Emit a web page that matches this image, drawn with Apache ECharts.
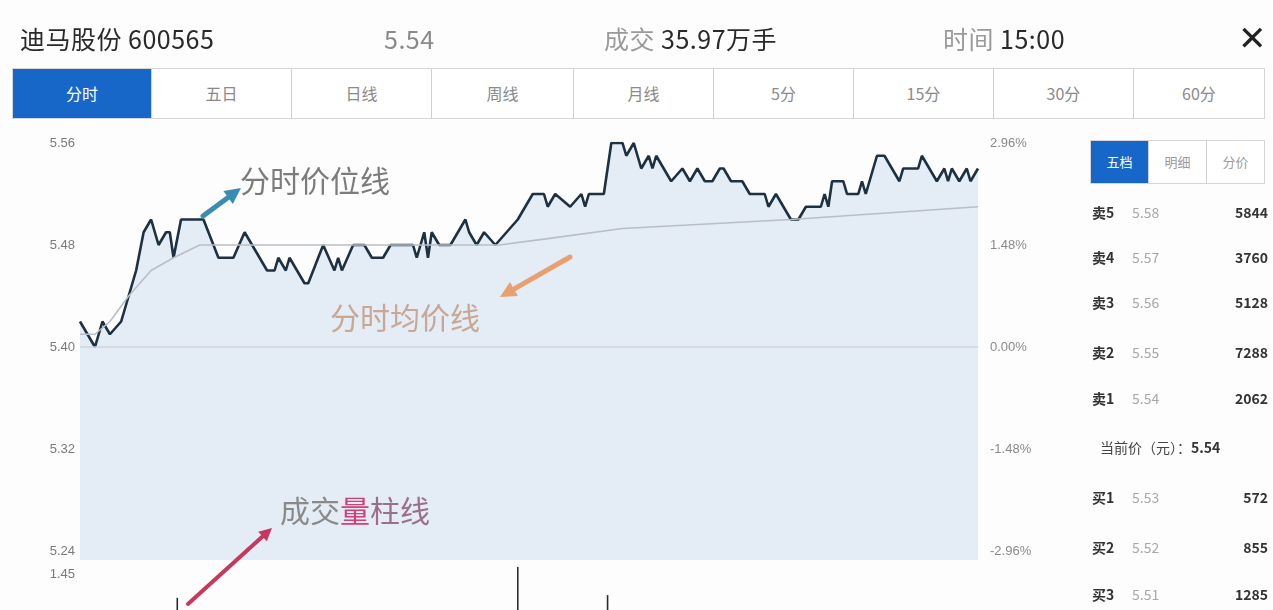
<!DOCTYPE html>
<html><head><meta charset="utf-8">
<script src="https://cdn.jsdelivr.net/npm/echarts@6/dist/echarts.min.js"></script>
<style>
html,body{margin:0;padding:0;width:1273px;height:610px;overflow:hidden;background:#fdfdfd;font-family:"Noto Sans CJK SC","Noto Sans",sans-serif;}
#chart{position:absolute;left:0;top:0;width:1273px;height:610px;}
.abs{position:absolute;white-space:nowrap;}
.hdr{top:20px;font-size:25px;letter-spacing:0.5px;color:#2a2a2a;line-height:36px;}
.hdr .lt{color:#9a9a9a;}
#tabs{position:absolute;left:12px;top:68px;width:1253px;height:51px;border:1px solid #d6d6d6;box-sizing:border-box;display:flex;background:#fff;}
#tabs div{flex:0 0 auto;text-align:center;line-height:49px;font-size:16px;color:#8a8a8a;border-right:1px solid #d0d0d0;box-sizing:border-box;}
#tabs div:last-child{border-right:none;}
#tabs div.on{background:#1767c9;color:#fff;}
#rtabs{position:absolute;left:1090px;top:140px;width:175px;height:44px;border:1px solid #d6d6d6;box-sizing:border-box;display:flex;background:#fff;}
#rtabs div{flex:1;text-align:center;line-height:42px;font-size:13px;color:#9a9a9a;border-right:1px solid #d0d0d0;}
#rtabs div:last-child{border-right:none;}
#rtabs div.on{background:#1767c9;color:#fff;}
.row{position:absolute;left:1092px;width:176px;height:22px;font-size:14px;line-height:22px;}
.row .k{position:absolute;left:0;color:#333;font-weight:bold;}
.row .p{position:absolute;left:40px;color:#a8a8a8;}
.row .v{position:absolute;right:0;color:#333;font-weight:bold;}
.cur{position:absolute;left:1100px;font-size:14px;color:#444;line-height:22px;}
</style></head>
<body>
<div id="chart"></div>
<div class="abs hdr" style="left:20px;">迪马股份 600565</div>
<div class="abs hdr" style="left:384px;color:#8a8a8a;">5.54</div>
<div class="abs hdr" style="left:604px;"><span class="lt">成交 </span>35.97万手</div>
<div class="abs hdr" style="left:943px;"><span class="lt">时间 </span>15:00</div>
<div class="abs" style="left:1238px;top:16px;font-size:34px;line-height:40px;color:#222;">✕</div>
<div id="tabs"></div>
<div id="rtabs"><div class="on">五档</div><div>明细</div><div>分价</div></div>
<div id="book"></div>
<script>
// ---- data ----
var stockName = '迪马股份 600565';
var tabNames = ['分时','五日','日线','周线','月线','5分','15分','30分','60分'];
var tabWidths = [139,140,140,142,140,140,140,140,130];
var bookLabels = ['卖5','卖4','卖3','卖2','卖1','买1','买2','买3'];
var bookPrices = ['5.58','5.57','5.56','5.55','5.54','5.53','5.52','5.51'];
var bookVols = ['5844','3760','5128','7288','2062','572','855','1285'];
var bookRowsY = [201,246,291,341,387,486,536,583];

var priceTicks = [5.24, 5.32, 5.40, 5.48, 5.56];
var pctTicks = [-2.96, -1.48, 0, 1.48, 2.96];
var volTicks = [0, 1.45];
var prevClose = 5.40;

var priceMinutes = [0,4,6,8,11,13,15,17,19,21,23,24,25,27,33,37,41,44,46,50,52,53,55,56,60,61,65,68,69,70,73,76,78,81,83,89,90,92,93,94,96,99,103,104,106,108,111,114,117,121,124,125,127,131,134,135,136,140,142,145,146,148,150,152,153,154,158,161,163,165,167,169,171,172,174,177,179,183,184,186,188,190,192,194,198,199,200,201,204,205,208,209,210,213,215,219,220,224,225,227,229,231,232,233,235,237,238,240];
var priceValues = [5.42,5.40,5.42,5.41,5.42,5.44,5.46,5.49,5.50,5.48,5.49,5.49,5.47,5.50,5.50,5.47,5.47,5.49,5.48,5.46,5.46,5.47,5.46,5.47,5.45,5.45,5.48,5.46,5.47,5.46,5.48,5.48,5.47,5.47,5.48,5.48,5.47,5.49,5.47,5.49,5.48,5.48,5.50,5.49,5.48,5.49,5.48,5.49,5.50,5.52,5.52,5.51,5.52,5.51,5.52,5.51,5.52,5.52,5.56,5.56,5.55,5.56,5.54,5.55,5.54,5.55,5.53,5.54,5.53,5.54,5.53,5.53,5.54,5.54,5.53,5.53,5.52,5.52,5.51,5.52,5.51,5.50,5.50,5.51,5.51,5.52,5.51,5.53,5.53,5.52,5.52,5.53,5.52,5.55,5.55,5.53,5.54,5.54,5.55,5.54,5.53,5.54,5.53,5.54,5.53,5.54,5.53,5.54];
var avgMinutes = [0,4,8,13,19,25,32,112,125,145,190,240];
var avgValues = [5.41,5.41,5.42,5.44,5.46,5.47,5.48,5.48,5.485,5.493,5.50,5.51];
var volMinutes = [26,117,141];
var volValues = [0.40,1.42,0.49];

// ---- HTML parts ----
var tabsEl = document.getElementById('tabs');
tabNames.forEach(function(n,i){
  var d=document.createElement('div'); d.textContent=n; d.style.width=tabWidths[i]+'px';
  if(i===0) d.className='on'; tabsEl.appendChild(d);
});
var book = document.getElementById('book');
bookLabels.forEach(function(l,i){
  var r=document.createElement('div'); r.className='row'; r.style.top=bookRowsY[i]+'px';
  r.innerHTML='<span class="k">'+l+'</span><span class="p">'+bookPrices[i]+'</span><span class="v">'+bookVols[i]+'</span>';
  book.appendChild(r);
});
var cur=document.createElement('div'); cur.className='cur'; cur.style.top='436px';
cur.innerHTML='当前价（元）：<span style="color:#333;font-weight:bold">5.54</span>';
book.appendChild(cur);

// ---- chart ----
function zip(a,b){return a.map(function(v,i){return [v,b[i]];});}
function arrow(x1,y1,x2,y2,color,w){
  var ang=Math.atan2(y2-y1,x2-x1), L=w*3.2, H=w*1.6;
  var bx=x2-Math.cos(ang)*L, by=y2-Math.sin(ang)*L;
  var px=-Math.sin(ang)*H, py=Math.cos(ang)*H;
  return {type:'group',z:100,children:[
    {type:'line',z:100,shape:{x1:x1,y1:y1,x2:bx,y2:by},style:{stroke:color,lineWidth:w,lineCap:'round'}},
    {type:'polygon',z:100,shape:{points:[[x2,y2],[bx+px,by+py],[bx-px,by-py]]},style:{fill:color}}
  ]};
}
var gl=80, gr=978, gt=143, gb=551;
var fillColor='#e4ecf6';
var annFont='30px "Noto Sans CJK SC"';
var chart = echarts.init(document.getElementById('chart'));
chart.setOption({
  animation:false,
  backgroundColor:'transparent',
  grid:[
    {left:gl,right:1273-gr,top:gt,height:gb-gt},
    {left:gl,right:1273-gr,top:566,height:44}
  ],
  xAxis:[
    {type:'value',gridIndex:0,min:0,max:240,show:false},
    {type:'value',gridIndex:1,min:0,max:240,show:false}
  ],
  yAxis:[
    {type:'value',gridIndex:0,position:'left',min:priceTicks[0],max:priceTicks[priceTicks.length-1],interval:priceTicks[1]-priceTicks[0],
     axisLine:{show:false},axisTick:{show:false},splitLine:{show:false},
     axisLabel:{margin:5,fontSize:13,color:'#7a7a7a',formatter:function(v){return v.toFixed(2);}}},
    {type:'value',gridIndex:0,position:'right',min:pctTicks[0],max:pctTicks[pctTicks.length-1],interval:pctTicks[1]-pctTicks[0],
     axisLine:{show:false},axisTick:{show:false},splitLine:{show:false},
     axisLabel:{margin:12,fontSize:13,color:'#8a8a8a',formatter:function(v){
       if(Math.abs(v)<1e-9) v=0; return v.toFixed(2)+'%';}}},
    {type:'value',gridIndex:1,position:'left',min:volTicks[0],max:volTicks[1],interval:volTicks[1]-volTicks[0],
     axisLine:{show:false},axisTick:{show:false},splitLine:{show:false},
     axisLabel:{margin:5,showMinLabel:false,
       rich:{t:{padding:[16,0,0,0],fontSize:13,color:'#7a7a7a'}},
       formatter:function(v){return '{t|'+v.toFixed(2)+'}';}}}
  ],
  series:[
    {type:'line',name:'分时价位线',xAxisIndex:0,yAxisIndex:0,data:zip(priceMinutes,priceValues),
     symbol:'none',lineStyle:{color:'#1e3140',width:2.6},
     areaStyle:{color:fillColor,origin:'start',opacity:1},z:3,
     markLine:{silent:true,symbol:'none',label:{show:false},lineStyle:{color:'#d2d6dc',width:1.5,type:'solid'},data:[{yAxis:prevClose}]}},
    {type:'line',name:'分时均价线',xAxisIndex:0,yAxisIndex:0,data:zip(avgMinutes,avgValues),
     symbol:'none',smooth:false,lineStyle:{color:'#b9bec6',width:1.6},z:4},
    {type:'bar',name:'成交量',xAxisIndex:1,yAxisIndex:2,data:zip(volMinutes,volValues),
     barWidth:1.6,itemStyle:{color:'#2a2a2a'}}
  ],
  graphic:[
    {type:'rect',z:-1,shape:{x:gl,y:gb,width:gr-gl,height:9},style:{fill:fillColor}},
    {type:'text',z:100,left:240,top:166,style:{text:'分时价位线',font:annFont,fill:'#7c7c7c',letterSpacing:2}},
    arrow(203,216,241,188,'#3a8db0',5),
    {type:'text',z:100,left:330,top:303,style:{text:'分时均价线',font:annFont,fill:'#c8a894'}},
    arrow(570,257,500,297,'#e9a070',5),
    {type:'text',z:100,left:280,top:496,style:{rich:{
      a:{font:annFont,fill:'#8a8a8a'},
      b:{font:annFont,fill:'#d0407a'},
      c:{font:annFont,fill:'#9a7088'}},
      text:'{a|成交}{b|量}{c|柱线}'}},
    arrow(188,604,272,528,'#c8385e',4)
  ]
});
</script>
</body></html>
